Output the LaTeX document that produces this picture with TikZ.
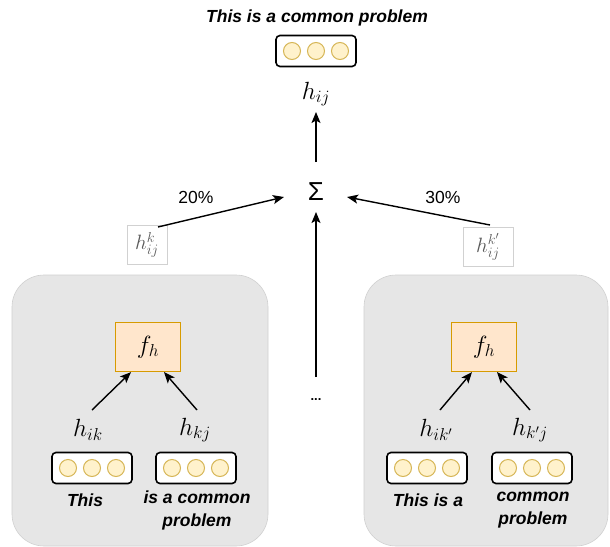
\documentclass[tikz,border=0pt]{standalone}
\usepackage{fontspec}
\setmainfont{Liberation Sans}
\usetikzlibrary{arrows.meta,calc}
\definecolor{panelfill}{HTML}{E6E6E6}
\definecolor{panelline}{HTML}{D0D0D0}
\definecolor{dotfill}{HTML}{FFF2CC}
\definecolor{dotline}{HTML}{D6B656}
\definecolor{fhfill}{HTML}{FFE6CC}
\definecolor{fhline}{HTML}{D79B00}
\begin{document}
\begin{tikzpicture}[x=1pt,y=-1pt,
  panel/.style={fill=panelfill,draw=panelline,line width=0.6pt,rounded corners=32pt},
  vecbox/.style={draw=black,line width=1.6pt,rounded corners=4pt,fill=white,minimum width=80pt,minimum height=31pt,inner sep=0pt},
  dot/.style={circle,fill=dotfill,draw=dotline,line width=1pt,minimum size=17pt,inner sep=0pt},
  fhbox/.style={fill=fhfill,draw=fhline,line width=1.2pt,minimum width=65pt,minimum height=49pt,inner sep=0pt,font=\fontsize{23}{26}\selectfont},
  word/.style={font=\fontsize{17.5}{23}\selectfont\bfseries\itshape,align=center,inner sep=0pt},
  mlab/.style={font=\fontsize{24}{26}\selectfont,inner sep=0pt},
  pct/.style={font=\fontsize{17.5}{20}\selectfont,inner sep=0pt},
  hbox/.style={draw=black!18,line width=0.6pt,text=black!65,font=\fontsize{21}{24}\selectfont,inner sep=2pt,minimum width=40pt,minimum height=39pt},
  arr/.style={draw=black,line width=1.4pt,-{Stealth[length=11pt,width=9pt,inset=2.5pt]}}
]
\useasboundingbox (0,0) rectangle (610,546);
% panels
\path[panel] (12,275) rectangle (268,546);
\path[panel] (364,275) rectangle (608,546);

% top
\node[word] (title) at (317,18) {This is a common problem};
\node[vecbox] (topvec) at (316,51) {};
\foreach \dx/\n in {-24/a,0/b,24/c} \node[dot] (top\n) at ($(316,51)+(\dx,0)$) {};
\node[mlab] (hij) at (316,94) {$h_{ij}$};
\node[font=\fontsize{26}{28}\selectfont,inner sep=0pt] (sigma) at (316,192) {Σ};
\coordinate (sigtop) at (316,162);
\coordinate (sigbot) at (316,212);
\coordinate (sigleft) at (284,197);
\coordinate (sigright) at (347,197);
\coordinate (hijbot) at (316,112);
\draw[arr] (sigtop) -- (hijbot);

% weights
\node[hbox] (hk) at (147,245) {$h_{ij}^{k}$};
\node[hbox,minimum width=50pt] (hk2) at (488,247) {$h_{ij}^{k'}$};
\coordinate (hkout) at (158,227);
\coordinate (hk2out) at (490,225);
\draw[arr] (hkout) -- (sigleft);
\draw[arr] (hk2out) -- (sigright);
\node[pct] (p20) at (196,197) {20\%};
\node[pct] (p30) at (443,197) {30\%};

% dots
\node[font=\fontsize{13}{14}\selectfont\bfseries,inner sep=0pt] (dots) at (316,400) {...};
\coordinate (dotstop) at (316,377);
\draw[arr] (dotstop) -- (sigbot);

% left panel
\node[fhbox] (fhL) at (148,347) {$f_h$};
\node[mlab] (hik) at (88,430) {$h_{ik}$};
\node[mlab] (hkj) at (195,430) {$h_{kj}$};
\coordinate (hikout) at (92,410);
\coordinate (hkjout) at (197,410);
\draw[arr] (hikout) -- ($(fhL.south)+(-17,0)$);
\draw[arr] (hkjout) -- ($(fhL.south)+(16,0)$);
\node[vecbox] (vL1) at (92,468) {};
\foreach \dx in {-24,0,24} \node[dot] at ($(92,468)+(\dx,0)$) {};
\node[vecbox] (vL2) at (196,468) {};
\foreach \dx in {-24,0,24} \node[dot] at ($(196,468)+(\dx,0)$) {};
\node[word] (wL1) at (85,500) {This};
\node[word] (wL2) at (197,510) {is a common\\problem};

% right panel
\node[fhbox] (fhR) at (484,347) {$f_h$};
\node[mlab] (hikp) at (436,430) {$h_{ik^{\prime}}$};
\node[mlab] (hkpj) at (530,430) {$h_{k^{\prime}j}$};
\coordinate (hikpout) at (440,410);
\coordinate (hkpjout) at (530,410);
\draw[arr] (hikpout) -- ($(fhR.south)+(-12,0)$);
\draw[arr] (hkpjout) -- ($(fhR.south)+(13,0)$);
\node[vecbox] (vR1) at (427,468) {};
\foreach \dx in {-24,0,24} \node[dot] at ($(427,468)+(\dx,0)$) {};
\node[vecbox] (vR2) at (532,468) {};
\foreach \dx in {-24,0,24} \node[dot] at ($(532,468)+(\dx,0)$) {};
\node[word] (wR1) at (428,500) {This is a};
\node[word] (wR2) at (533,510) {common\\problem};
\end{tikzpicture}
\end{document}
